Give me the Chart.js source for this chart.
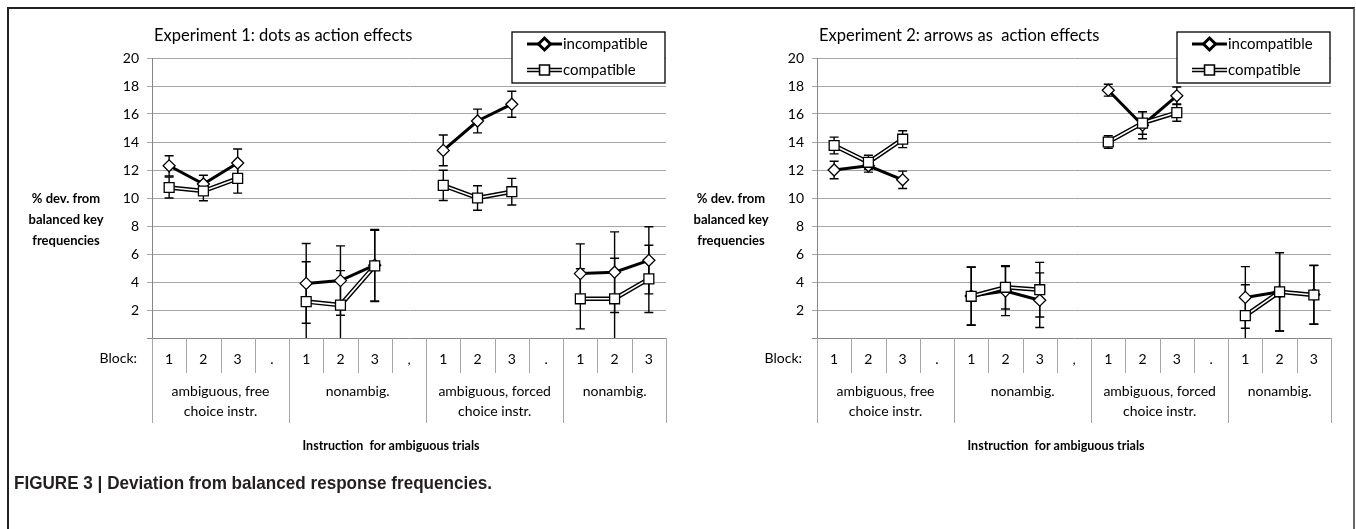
<!DOCTYPE html>
<html>
<head>
<meta charset="utf-8">
<script src="https://cdn.jsdelivr.net/npm/chart.js@4.4.1/dist/chart.umd.min.js"></script>
<style>
  html, body { margin: 0; padding: 0; background: #fff; }
  body { width: 1356px; height: 529px; position: relative; overflow: hidden; }
  #frame { position: absolute; left: 7px; top: 7px; width: 1344px; height: 600px;
           border-left: 2px solid #222; border-top: 2px solid #222; border-right: 2px solid #666; }
  .panel { position: absolute; top: 0; width: 676px; height: 529px; }
  #caption { position: absolute; left: 14px; top: 472px; color: #231f20; white-space: nowrap;
             font: bold 19px "Liberation Sans", Arial, sans-serif;
             transform: scaleX(0.9); transform-origin: 0 0; }
</style>
</head>
<body>
<div id="frame"></div>
<div class="panel" style="left:0px"><canvas id="exp1" width="676" height="529"></canvas></div>
<div class="panel" style="left:665px"><canvas id="exp2" width="676" height="529"></canvas></div>
<div id="caption">FIGURE 3 | Deviation from balanced response frequencies.</div>

<script>
// Block labels along the x axis (gaps between instruction phases carry a punctuation mark)
const blockLabels = ['1', '2', '3', '.', '1', '2', '3', ',', '1', '2', '3', '.', '1', '2', '3'];
// Instruction phases: label lines and first / last block index of each phase
const groupLabels = [['ambiguous, free', 'choice instr.'], ['nonambig.'], ['ambiguous, forced', 'choice instr.'], ['nonambig.']];
const groupFirst = [0, 4, 8, 12];
const groupLast  = [3, 7, 11, 14];
const yTickValues = [0, 2, 4, 6, 8, 10, 12, 14, 16, 18, 20];

// Experiment 1: dots as action effects
const exp1Incompatible    = [12.3, 11.0, 12.5, null, 3.9, 4.1, 5.2, null, 13.4, 15.5, 16.7, null, 4.6, 4.7, 5.55];
const exp1IncompatibleErr = [0.72, 0.62, 1.0, null, 2.85, 2.48, 2.55, null, 1.1, 0.85, 0.93, null, 2.12, 2.88, 2.4];
const exp1Compatible      = [10.75, 10.5, 11.4, null, 2.6, 2.35, 5.15, null, 10.9, 10.0, 10.45, null, 2.8, 2.8, 4.22];
const exp1CompatibleErr   = [0.75, 0.7, 1.05, null, 2.85, 2.46, 2.55, null, 1.08, 0.87, 0.95, null, 2.15, 2.9, 2.4];

// Experiment 2: arrows as action effects
const exp2Incompatible    = [12.0, 12.3, 11.3, null, 3.0, 3.35, 2.7, null, 17.7, 15.2, 17.3, null, 2.9, 3.3, 3.1];
const exp2IncompatibleErr = [0.62, 0.45, 0.62, null, 2.07, 1.75, 1.95, null, 0.42, 0.97, 0.63, null, 2.2, 2.8, 2.1];
const exp2Compatible      = [13.75, 12.55, 14.2, null, 2.98, 3.62, 3.45, null, 14.0, 15.35, 16.1, null, 1.6, 3.3, 3.07];
const exp2CompatibleErr   = [0.6, 0.5, 0.6, null, 2.07, 1.55, 1.95, null, 0.45, 0.8, 0.62, null, 2.2, 2.8, 2.1];

const FONT = 'Lato, "Open Sans", sans-serif';
const GRID = '#a6a6a6';
const AXIS = '#868686';

function drawMarker(ctx, style, radius, x, y) {
  Chart.helpers.drawPoint(ctx, { pointStyle: style, radius: radius, borderWidth: 1.3 }, x, y);
}

// Draws error bars, panel title, legend, y label and the two-row category axis
function makeDecor(cfg) {
  return {
    id: 'decor',
    beforeDatasetsDraw(chart) {
      const { ctx, chartArea: a, scales: { x, y } } = chart;
      ctx.save();
      ctx.beginPath();
      ctx.rect(a.left, a.top, a.right - a.left, a.bottom - a.top);
      ctx.clip();
      ctx.strokeStyle = '#000';
      ctx.lineWidth = 1.4;
      cfg.errors.forEach(([vals, errs]) => {
        vals.forEach((v, i) => {
          if (v === null) return;
          const px = x.getPixelForValue(i);
          const t = y.getPixelForValue(v + errs[i]);
          const b = y.getPixelForValue(v - errs[i]);
          ctx.beginPath();
          ctx.moveTo(px, t); ctx.lineTo(px, b);
          ctx.moveTo(px - 4.5, t); ctx.lineTo(px + 4.5, t);
          ctx.moveTo(px - 4.5, b); ctx.lineTo(px + 4.5, b);
          ctx.stroke();
        });
      });
      ctx.restore();
    },
    afterDraw(chart) {
      const { ctx, chartArea: a, scales: { x } } = chart;
      const band = x.getPixelForValue(1) - x.getPixelForValue(0);
      const edge = i => x.getPixelForValue(i) - band / 2;
      ctx.save();
      ctx.fillStyle = '#000';

      // panel title
      ctx.font = '16.5px ' + FONT;
      ctx.textAlign = 'left';
      ctx.textBaseline = 'middle';
      ctx.fillText(cfg.title, a.left + 2, 36);

      // legend box
      const lx = a.right - 154, ly = 32, lw = 153, lh = 51;
      ctx.fillStyle = '#fff';
      ctx.fillRect(lx, ly, lw, lh);
      ctx.strokeStyle = '#000';
      ctx.lineWidth = 1.3;
      ctx.strokeRect(lx, ly, lw, lh);
      const s0 = lx + 15, s1 = lx + 50, sc = (s0 + s1) / 2;
      // incompatible entry
      ctx.beginPath(); ctx.moveTo(s0, 44); ctx.lineTo(s1, 44);
      ctx.lineWidth = 3; ctx.strokeStyle = '#000'; ctx.stroke();
      ctx.fillStyle = '#fff'; ctx.strokeStyle = '#000';
      drawMarker(ctx, 'rectRot', 6, sc, 44);
      // compatible entry
      ctx.beginPath(); ctx.moveTo(s0, 70); ctx.lineTo(s1, 70);
      ctx.lineWidth = 4.5; ctx.strokeStyle = '#000'; ctx.stroke();
      ctx.lineWidth = 1.6; ctx.strokeStyle = '#fff'; ctx.stroke();
      ctx.fillStyle = '#fff'; ctx.strokeStyle = '#000';
      drawMarker(ctx, 'rect', 7, sc, 70);
      ctx.fillStyle = '#000';
      ctx.font = '15px ' + FONT;
      ctx.textAlign = 'left';
      ctx.fillText('incompatible', s1 + 1, 44);
      ctx.fillText('compatible', s1 + 1, 70);

      // y axis label
      ctx.font = 'bold 13px ' + FONT;
      ctx.textAlign = 'center';
      ['% dev. from', 'balanced key', 'frequencies'].forEach((t, i) => {
        ctx.fillText(t, a.left - 86, 199 + i * 21);
      });

      // category axis: block separators, phase separators and labels
      ctx.font = '14px ' + FONT;
      ctx.textAlign = 'right';
      ctx.fillText('Block:', a.left - 15, 358);
      ctx.strokeStyle = GRID;
      ctx.lineWidth = 1;
      for (let i = 0; i <= blockLabels.length; i++) {
        const ex = Math.round(edge(i)) + 0.5;
        const phase = groupFirst.includes(i) || i === blockLabels.length;
        ctx.beginPath();
        ctx.moveTo(ex, a.bottom);
        ctx.lineTo(ex, phase ? a.bottom + 85 : a.bottom + 35);
        ctx.stroke();
      }
      ctx.textAlign = 'center';
      groupLabels.forEach((lines, g) => {
        const cx = (x.getPixelForValue(groupFirst[g]) + x.getPixelForValue(groupLast[g])) / 2;
        lines.forEach((t, k) => ctx.fillText(t, cx, 391 + k * 20));
      });

      // x axis title
      ctx.font = 'bold 12.5px ' + FONT;
      ctx.fillText('Instruction  for ambiguous trials', (a.left + a.right) / 2 - 18, 446);
      ctx.restore();
    }
  };
}

function buildChart(id, title, inc, incErr, comp, compErr) {
  new Chart(document.getElementById(id), {
    type: 'line',
    data: {
      labels: blockLabels,
      datasets: [
        { label: 'compatible', data: comp, order: 0, borderColor: '#fff', borderWidth: 1.6,
          pointStyle: 'rect', pointRadius: 7, pointBackgroundColor: '#fff',
          pointBorderColor: '#000', pointBorderWidth: 1.3 },
        { label: 'compatible (outline)', data: comp, order: 1, borderColor: '#000', borderWidth: 4.5,
          pointRadius: 0 },
        { label: 'incompatible', data: inc, order: 2, borderColor: '#000', borderWidth: 3,
          pointStyle: 'rectRot', pointRadius: 6, pointBackgroundColor: '#fff',
          pointBorderColor: '#000', pointBorderWidth: 1.3 }
      ]
    },
    options: {
      responsive: false,
      animation: false,
      events: [],
      spanGaps: false,
      layout: { padding: { left: 0, right: 10, top: 58, bottom: 0 } },
      plugins: { legend: { display: false }, tooltip: { enabled: false } },
      scales: {
        x: {
          type: 'category',
          offset: true,
          grid: { display: false },
          border: { display: false },
          ticks: { color: '#000', font: { family: FONT, size: 14 }, padding: 5, maxRotation: 0, autoSkip: false },
          afterFit(s) { s.height = 191; }
        },
        y: {
          min: 0, max: 20,
          afterBuildTicks(s) { s.ticks = yTickValues.map(v => ({ value: v })); },
          ticks: { color: '#000', font: { family: FONT, size: 14 }, padding: 8,
                   callback: v => (v === 0 ? '' : String(v)) },
          grid: { color: c => (c.tick && c.tick.value === 0 ? AXIS : GRID), lineWidth: 1, tickLength: 5 },
          border: { color: AXIS, width: 1 },
          afterFit(s) { s.width = 152; }
        }
      }
    },
    plugins: [makeDecor({ title: title, errors: [[inc, incErr], [comp, compErr]] })]
  });
}

buildChart('exp1', 'Experiment 1: dots as action effects',
  exp1Incompatible, exp1IncompatibleErr, exp1Compatible, exp1CompatibleErr);
buildChart('exp2', 'Experiment 2: arrows as  action effects',
  exp2Incompatible, exp2IncompatibleErr, exp2Compatible, exp2CompatibleErr);
</script>
</body>
</html>
